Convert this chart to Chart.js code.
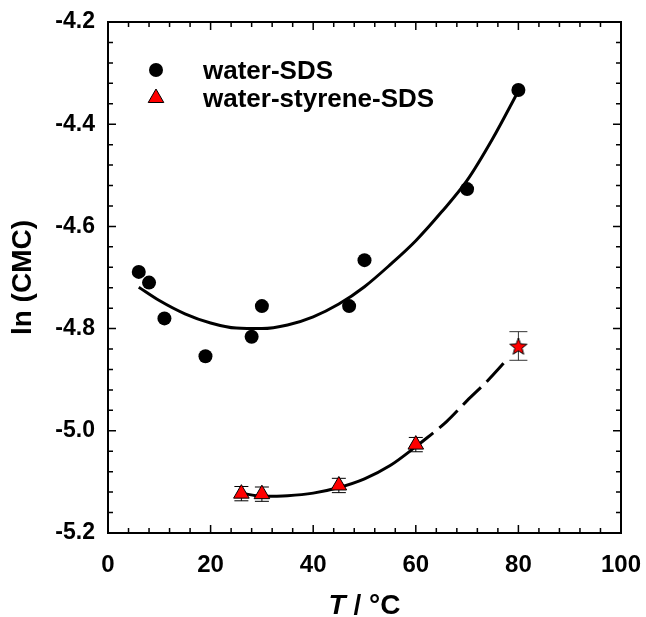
<!DOCTYPE html>
<html>
<head>
<meta charset="utf-8">
<script src="https://cdn.jsdelivr.net/npm/chart.js@4/dist/chart.umd.min.js"></script>
<style>
  html, body { margin: 0; padding: 0; background: #fff; }
  #wrap { width: 646px; height: 617px; }
</style>
</head>
<body>
<div id="wrap"><canvas id="cmc"></canvas></div>
<script>
// ---- data ----
const sdsT = [6, 8, 11, 19, 28, 30, 47, 50, 70, 80];
const sdsLn = [-4.689, -4.710, -4.780, -4.854, -4.816, -4.756, -4.756, -4.666, -4.527, -4.333];

const styT = [26, 30, 45, 60];
const styLn = [-5.123, -5.124, -5.107, -5.027];
const styErr = [0.014, 0.014, 0.014, 0.014];

const starT = [80];
const starLn = [-4.834];
const starErr = [0.028];

// fitted curves (traced)
const sdsFitT = [6, 10, 15, 20, 25, 30, 35, 40, 45, 50, 55, 60, 65, 70, 75, 80];
const sdsFitLn = [-4.719, -4.745, -4.771, -4.789, -4.799, -4.800, -4.793, -4.777, -4.752, -4.718, -4.675, -4.628, -4.572, -4.510, -4.428, -4.335];

const styFitT = [26, 30, 35, 40, 45, 50, 55, 60, 63.4];
const styFitLn = [-5.122, -5.128, -5.127, -5.122, -5.111, -5.094, -5.068, -5.031, -5.004];

const styDashT = [63.4, 66, 70, 74, 78];
const styDashLn = [-5.004, -4.982, -4.941, -4.902, -4.858];

// axis ticks
const xTicks = [0, 20, 40, 60, 80, 100];
const xMinor = [4, 8, 12, 16, 24, 28, 32, 36, 44, 48, 52, 56, 64, 68, 72, 76, 84, 88, 92, 96];
const yTicks = [-5.2, -5.0, -4.8, -4.6, -4.4, -4.2];
const yMinor = [-5.16, -5.12, -5.08, -5.04, -4.96, -4.92, -4.88, -4.84, -4.76, -4.72, -4.68, -4.64,
                -4.56, -4.52, -4.48, -4.44, -4.36, -4.32, -4.28, -4.24];

const FONT = "'Liberation Sans', Arial, sans-serif";

function pts(xs, ys) {
  return xs.map((x, i) => ({ x: x, y: ys[i] }));
}

// filled five point star marker
function starMarker(r) {
  const s = Math.ceil(r * 2 + 4);
  const c = document.createElement('canvas');
  c.width = s; c.height = s;
  const g = c.getContext('2d');
  g.beginPath();
  for (let i = 0; i < 10; i++) {
    const rr = i % 2 ? r * 0.42 : r;
    const a = -Math.PI / 2 + i * Math.PI / 5;
    g.lineTo(s / 2 + rr * Math.cos(a), s / 2 + 1 + rr * Math.sin(a));
  }
  g.closePath();
  g.fillStyle = '#ff0000';
  g.fill();
  g.strokeStyle = '#000';
  g.lineWidth = 1;
  g.stroke();
  return c;
}

const errorBars = [
  { xs: styT, ys: styLn, err: styErr, cap: 7, color: '#000' },
  { xs: starT, ys: starLn, err: starErr, cap: 9, color: '#333' }
];

const decor = {
  id: 'decor',
  beforeDatasetsDraw(chart) {
    const { ctx, scales: { x, y } } = chart;
    ctx.save();
    ctx.lineWidth = 1;
    errorBars.forEach(eb => {
      ctx.strokeStyle = eb.color;
      eb.xs.forEach((t, i) => {
        const px = x.getPixelForValue(t);
        const top = y.getPixelForValue(eb.ys[i] + eb.err[i]);
        const bot = y.getPixelForValue(eb.ys[i] - eb.err[i]);
        ctx.beginPath();
        ctx.moveTo(px, top); ctx.lineTo(px, bot);
        ctx.moveTo(px - eb.cap, top); ctx.lineTo(px + eb.cap, top);
        ctx.moveTo(px - eb.cap, bot); ctx.lineTo(px + eb.cap, bot);
        ctx.stroke();
      });
    });
    ctx.restore();
  },
  afterDraw(chart) {
    const { ctx, chartArea: a, scales: { x, y } } = chart;
    ctx.save();
    // frame
    ctx.strokeStyle = '#000';
    ctx.lineWidth = 2;
    ctx.strokeRect(a.left, a.top, a.right - a.left, a.bottom - a.top);

    // inward ticks on all four sides
    ctx.lineWidth = 1.5;
    const tickX = (v, len) => {
      const px = x.getPixelForValue(v);
      ctx.moveTo(px, a.bottom); ctx.lineTo(px, a.bottom - len);
      ctx.moveTo(px, a.top); ctx.lineTo(px, a.top + len);
    };
    const tickY = (v, len) => {
      const py = y.getPixelForValue(v);
      ctx.moveTo(a.left, py); ctx.lineTo(a.left + len, py);
      ctx.moveTo(a.right, py); ctx.lineTo(a.right - len, py);
    };
    ctx.beginPath();
    xTicks.forEach(v => tickX(v, 8));
    xMinor.forEach(v => tickX(v, 5));
    yTicks.forEach(v => tickY(v, 8));
    yMinor.forEach(v => tickY(v, 5));
    ctx.stroke();

    // legend
    const lx = 156;
    ctx.fillStyle = '#000';
    ctx.beginPath();
    ctx.arc(lx, 70, 7, 0, Math.PI * 2);
    ctx.fill();

    const tr = 9, ty = 98;
    ctx.beginPath();
    ctx.moveTo(lx, ty - tr);
    ctx.lineTo(lx + tr * 0.866, ty + tr / 2);
    ctx.lineTo(lx - tr * 0.866, ty + tr / 2);
    ctx.closePath();
    ctx.fillStyle = '#ff0000';
    ctx.fill();
    ctx.lineWidth = 1;
    ctx.strokeStyle = '#000';
    ctx.stroke();

    ctx.fillStyle = '#000';
    ctx.font = 'bold 26px ' + FONT;
    ctx.textAlign = 'left';
    ctx.textBaseline = 'alphabetic';
    ctx.fillText('water-SDS', 203, 79);
    ctx.fillText('water-styrene-SDS', 203, 107);

    // x axis title with italic T
    const f1 = 'italic bold 28px ' + FONT;
    const f2 = 'bold 28px ' + FONT;
    ctx.font = f1;
    const w1 = ctx.measureText('T').width;
    ctx.font = f2;
    const w2 = ctx.measureText(' / °C').width;
    const cx = (a.left + a.right) / 2;
    const sx = cx - (w1 + w2) / 2;
    ctx.font = f1;
    ctx.fillText('T', sx, 614);
    ctx.font = f2;
    ctx.fillText(' / °C', sx + w1, 614);
    ctx.restore();
  }
};

new Chart(document.getElementById('cmc'), {
  type: 'scatter',
  data: {
    datasets: [
      {
        label: 'water-SDS',
        data: pts(sdsT, sdsLn),
        pointStyle: 'circle',
        pointRadius: 7,
        pointBorderWidth: 0,
        backgroundColor: '#000',
        borderColor: '#000',
        order: 1
      },
      {
        label: 'water-styrene-SDS',
        data: pts(styT, styLn),
        pointStyle: 'triangle',
        pointRadius: 9,
        pointBorderWidth: 1,
        backgroundColor: '#ff0000',
        borderColor: '#000',
        order: 1
      },
      {
        label: 'star',
        data: pts(starT, starLn),
        pointStyle: starMarker(9),
        order: 1
      },
      {
        label: 'fit SDS',
        data: pts(sdsFitT, sdsFitLn),
        showLine: true,
        pointRadius: 0,
        borderColor: '#000',
        borderWidth: 3,
        cubicInterpolationMode: 'monotone',
        order: 2
      },
      {
        label: 'fit styrene',
        data: pts(styFitT, styFitLn),
        showLine: true,
        pointRadius: 0,
        borderColor: '#000',
        borderWidth: 3,
        cubicInterpolationMode: 'monotone',
        order: 2
      },
      {
        label: 'fit styrene (extrapolated)',
        data: pts(styDashT, styDashLn),
        showLine: true,
        pointRadius: 0,
        borderColor: '#000',
        borderWidth: 3,
        borderDash: [25, 8],
        borderDashOffset: 25,
        cubicInterpolationMode: 'monotone',
        order: 2
      }
    ]
  },
  options: {
    responsive: true,
    maintainAspectRatio: false,
    animation: false,
    layout: { padding: { top: 22, right: 25, bottom: 0, left: 0 } },
    plugins: {
      legend: { display: false },
      tooltip: { enabled: false }
    },
    scales: {
      x: {
        type: 'linear',
        min: 0,
        max: 100,
        afterBuildTicks: s => { s.ticks = xTicks.map(v => ({ value: v })); },
        afterFit: s => {
          s.height = 617 - 533;
          s.paddingLeft = 0;
          s.paddingRight = 0;
        },
        grid: { display: false, drawTicks: false },
        border: { display: false },
        ticks: {
          color: '#000',
          padding: 18,
          maxRotation: 0,
          font: { family: FONT, size: 24, weight: 'bold' },
          callback: v => String(v)
        },
        title: { display: false }
      },
      y: {
        type: 'linear',
        min: -5.2,
        max: -4.2,
        afterBuildTicks: s => { s.ticks = yTicks.map(v => ({ value: v })); },
        afterFit: s => {
          s.width = 108;
          s.paddingTop = 0;
          s.paddingBottom = 0;
        },
        grid: { display: false, drawTicks: false },
        border: { display: false },
        ticks: {
          color: '#000',
          padding: 13,
          font: { family: FONT, size: 23, weight: 'bold' },
          callback: v => v.toFixed(1)
        },
        title: {
          display: true,
          text: 'ln (CMC)',
          color: '#000',
          padding: { top: 6, bottom: 0 },
          font: { family: FONT, size: 28, weight: 'bold' }
        }
      }
    }
  },
  plugins: [decor]
});
</script>
</body>
</html>
